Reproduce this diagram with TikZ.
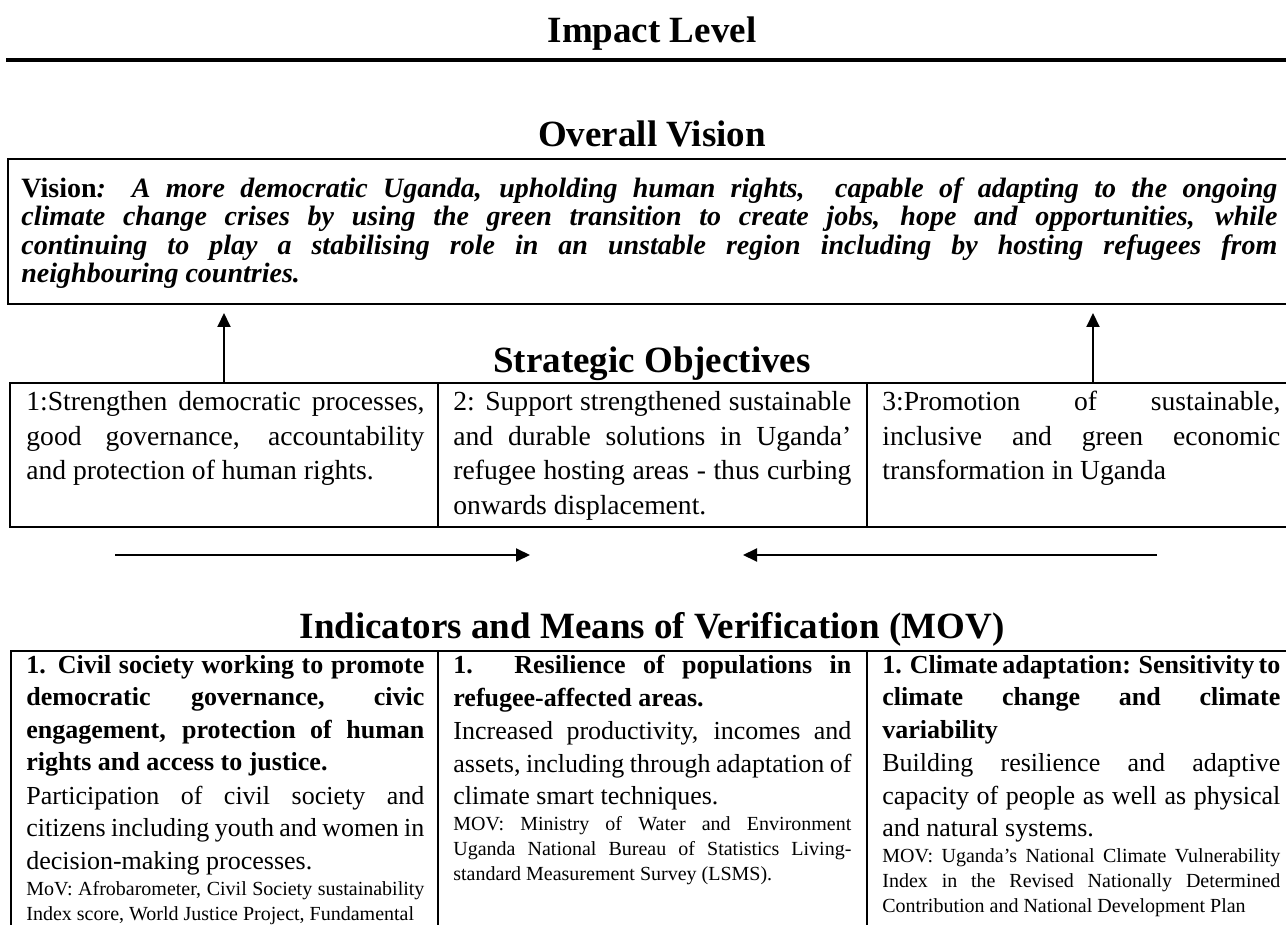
\documentclass[tikz,border=0pt]{standalone}
\usepackage{fontspec}
\setmainfont{Liberation Serif}
\usetikzlibrary{arrows.meta,positioning}
\tolerance=9999
\hyphenpenalty=10000

\begin{document}
\begin{tikzpicture}[
  x=0.5pt, y=-0.5pt,
  heading/.style={anchor=base, inner sep=0pt, font=\bfseries\fontsize{18.5}{21}\selectfont},
  frame/.style={draw, line width=1.3pt},
  vtext/.style={anchor=north west, inner sep=0pt, text width=628pt, align=justify,
                font=\bfseries\itshape\fontsize{14}{14.25}\selectfont},
  objcell/.style={anchor=north west, inner sep=0pt, text width=199pt, align=justify,
                  font=\fontsize{13.8}{17.25}\selectfont},
  indcell/.style={anchor=north west, inner sep=0pt, text width=199pt, align=justify,
                  font=\fontsize{13}{16.25}\selectfont\setlength{\parskip}{0.5pt}},
  link/.style={-{Triangle[length=7pt,width=6.5pt]}, line width=1pt},
]
\useasboundingbox (0,0) rectangle (1286,925);

% Impact level and the top rule
\node[heading] (impact) at (652,43) {Impact Level};
\draw[line width=1.7pt] (6,60) -- (1295,60);

% Overall vision
\node[heading] (vishead) at (652,147) {Overall Vision};
\draw[frame] (8,159) rectangle (1300,304);
\node[vtext] (vision) at (21,177) {\textup{Vision}: A more democratic Uganda, upholding human rights,\ \ capable of adapting to the ongoing\linebreak
  climate change crises by using the green transition to create jobs, hope and opportunities, while\linebreak
  continuing to play a stabilising role in an unstable region including by hosting refugees from\linebreak
  neighbouring countries.};

% Strategic objectives
\node[heading] (objhead) at (652,372) {Strategic Objectives};
\draw[frame] (10,383) rectangle (1300,527);
\draw[frame] (438,383) -- (438,527);
\draw[frame] (867,383) -- (867,527);
\coordinate (objtop) at (0,383);

\node[objcell] (obj1) at (26,391) {1:Strengthen democratic processes,\linebreak
  good governance, accountability\linebreak and protection of human rights.};
\node[objcell] (obj2) at (453,391) {2: Support strengthened sustainable\linebreak
  and durable solutions in Uganda'\linebreak refugee hosting areas - thus curbing\linebreak
  onwards displacement.};
\node[objcell] (obj3) at (882,391) {3:Promotion of sustainable,\linebreak
  inclusive and green economic\linebreak transformation in Uganda};

% arrows up to the vision
\coordinate (upA) at (224,313);
\coordinate (upB) at (1093,313);
\draw[link] (upA |- objtop) -- (upA);
\draw[link] (upB |- objtop) -- (upB);

% arrows towards the middle
\coordinate (fromL) at (115,555);
\coordinate (toL)   at (530,555);
\coordinate (fromR) at (1157,555);
\coordinate (toR)   at (743,555);
\draw[link] (fromL) -- (toL);
\draw[link] (fromR) -- (toR);

% Indicators and means of verification
\node[heading] (indhead) at (652,638) {Indicators and Means of Verification (MOV)};
\draw[frame] (11,651) rectangle (1300,960);
\draw[frame] (438,651) -- (438,960);
\draw[frame] (867,651) -- (867,960);

\node[indcell] (ind1) at (26,655) {{\bfseries 1. Civil society working to promote\linebreak
  democratic governance, civic\linebreak engagement, protection of human\linebreak
  rights and access to justice.\par}
  Participation of civil society and\linebreak citizens including youth and women in\linebreak
  decision-making processes.\par
  {\fontsize{10}{12.5}\selectfont MoV: Afrobarometer, Civil Society sustainability\linebreak
  Index score, World Justice Project, Fundamental\par}};
\node[indcell] (ind2) at (453,655) {{\bfseries 1. Resilience of populations in\linebreak
  refugee-affected areas.\par}
  Increased productivity, incomes and\linebreak assets, including through adaptation of\linebreak
  climate smart techniques.\par
  {\fontsize{10}{12.5}\selectfont MOV: Ministry of Water and Environment\linebreak
  Uganda National Bureau of Statistics Living-\linebreak standard Measurement Survey (LSMS).\par}};
\node[indcell] (ind3) at (882,655) {{\bfseries 1. Climate adaptation: Sensitivity to\linebreak
  climate change and climate\linebreak variability\par}
  Building resilience and adaptive\linebreak capacity of people as well as physical\linebreak
  and natural systems.\par
  {\fontsize{10}{12.5}\selectfont MOV: Uganda’s National Climate Vulnerability\linebreak
  Index in the Revised Nationally Determined\linebreak Contribution and National Development Plan\par}};
\end{tikzpicture}
\end{document}
